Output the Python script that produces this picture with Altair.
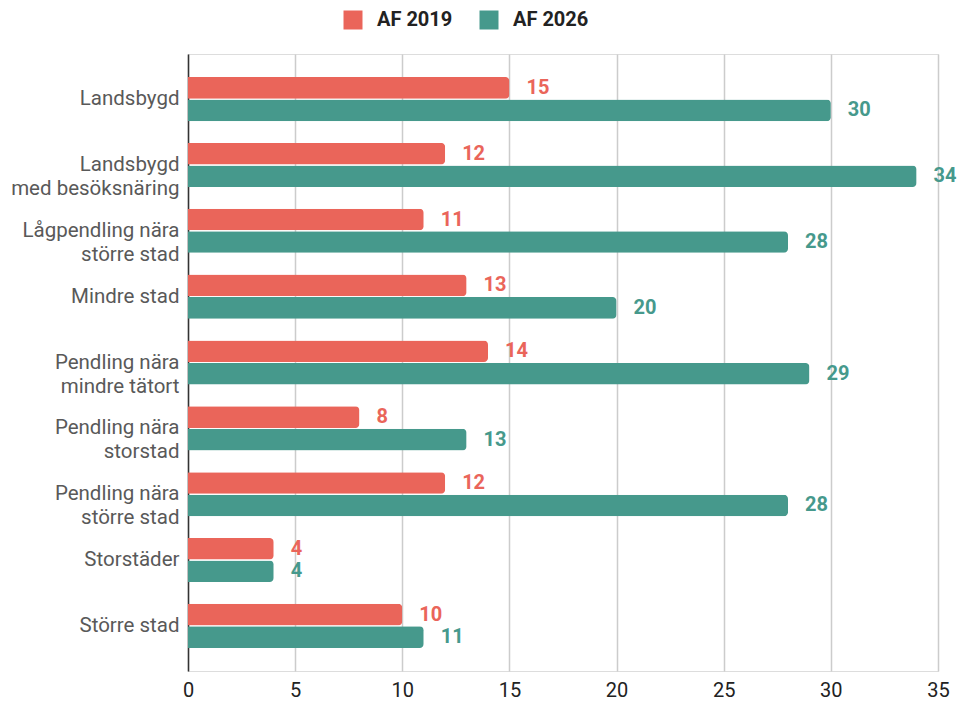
import altair as alt
import pandas as pd

categories = [
    "Landsbygd",
    "Landsbygd|med besöksnäring",
    "Lågpendling nära|större stad",
    "Mindre stad",
    "Pendling nära|mindre tätort",
    "Pendling nära|storstad",
    "Pendling nära|större stad",
    "Storstäder",
    "Större stad",
]
series = ["AF 2019", "AF 2026"]
af2019 = [15, 12, 11, 13, 14, 8, 12, 4, 10]
af2026 = [30, 34, 28, 20, 29, 13, 28, 4, 11]
colors = ["#EA655A", "#46998C"]

rows = []
for c, a, b in zip(categories, af2019, af2026):
    rows.append({"cat": c, "series": series[0], "value": a})
    rows.append({"cat": c, "series": series[1], "value": b})
df = pd.DataFrame(rows)

FONT = "Roboto"

y_enc = alt.Y(
    "cat:N",
    sort=categories,
    title=None,
    scale=alt.Scale(paddingInner=0.33, paddingOuter=0.35),
    axis=alt.Axis(
        labelExpr="split(datum.label, '|')",
        labelFontSize=20.5,
        labelFontWeight="normal",
        labelColor="#595959",
        labelFont=FONT,
        labelLineHeight=24,
        labelPadding=9,
        ticks=False,
        domain=True,
        domainColor="#333333",
        domainWidth=1.5,
        grid=False,
        labelLimit=300,
    ),
)
x_enc = alt.X(
    "value:Q",
    title=None,
    scale=alt.Scale(domain=[0, 35], nice=False),
    axis=alt.Axis(
        values=[0, 5, 10, 15, 20, 25, 30, 35],
        labelFontSize=20,
        labelColor="#222222",
        labelFont=FONT,
        labelPadding=9,
        labelFlush=False,
        ticks=False,
        domain=False,
        grid=True,
        gridColor="#CCCCCC",
        gridWidth=1.5,
    ),
)
yoff = alt.YOffset("series:N", sort=series, scale=alt.Scale(paddingInner=0.04))
color_enc = alt.Color(
    "series:N",
    sort=series,
    scale=alt.Scale(domain=series, range=colors),
    legend=alt.Legend(
        title=None,
        orient="none",
        direction="horizontal",
        legendX=155,
        legendY=-44,
        symbolType="square",
        symbolSize=361,
        symbolStrokeWidth=0,
        symbolOpacity=1,
        labelFontSize=20,
        labelFontWeight="bold",
        labelColor="#222222",
        labelFont=FONT,
        labelOffset=14,
        columnPadding=26,
    ),
)

base = alt.Chart(df)
bars = base.mark_bar(cornerRadiusEnd=4).encode(
    y=y_enc, x=x_enc, yOffset=yoff, color=color_enc
)
texts = base.mark_text(
    align="left", baseline="middle", dx=17, fontSize=20, fontWeight="bold", font=FONT
).encode(
    y=alt.Y("cat:N", sort=categories),
    x=alt.X("value:Q"),
    yOffset=alt.YOffset("series:N", sort=series),
    text=alt.Text("value:Q"),
    color=alt.Color("series:N", sort=series, legend=None),
)

chart = (
    alt.layer(bars, texts)
    .properties(
        width=750,
        height=617,
        padding={"left": 180, "top": 46, "right": 19, "bottom": 26},
        autosize="none",
    )
    .configure_view(stroke=None)
    .configure(font=FONT)
)

chart.save("out.html", embed_options={"renderer": "svg", "actions": False})
